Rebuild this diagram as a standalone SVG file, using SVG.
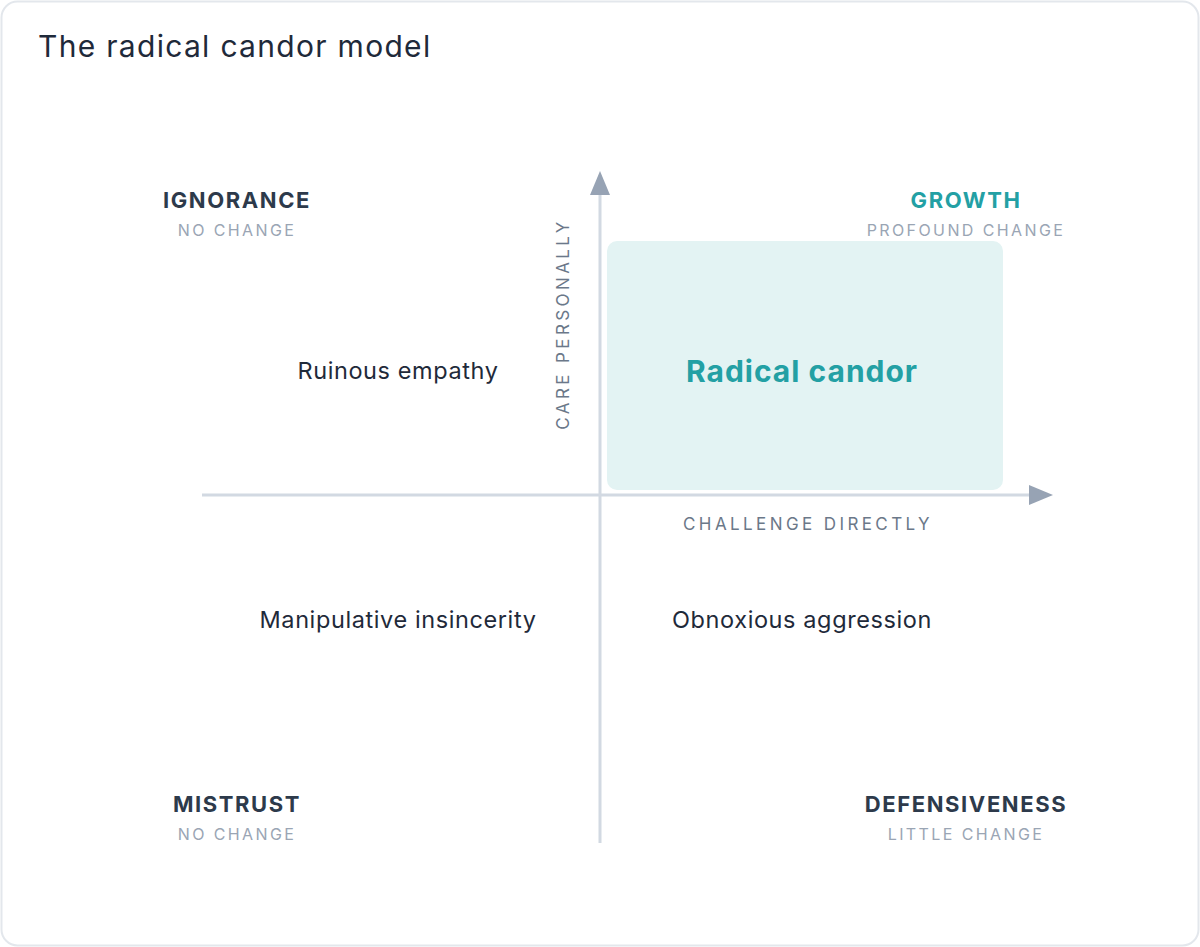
<svg xmlns="http://www.w3.org/2000/svg" width="1200" height="947" viewBox="0 0 1200 947">
<style>
text{font-family:"Inter","Liberation Sans",sans-serif}
.h{font-size:22px;font-weight:700;fill:#2d3a4b;letter-spacing:1.6px;text-anchor:middle}
.s{font-size:16px;fill:#9aa5b4;letter-spacing:2.4px;text-anchor:middle}
.l{font-size:23.5px;fill:#1f2a3a;letter-spacing:0.6px;text-anchor:middle}
.ax{font-size:17px;fill:#6b7889;letter-spacing:3.4px;text-anchor:middle}
.axis{stroke:#d2d9e2;stroke-width:3;fill:none}
</style>
<rect x="1.5" y="1.5" width="1197" height="944" rx="16" fill="#fff" stroke="#e3e7ec" stroke-width="2"/>
<text x="38" y="57" font-size="30" letter-spacing="1.3" fill="#1f2a3a">The radical candor model</text>
<g id="box"><rect x="607" y="241" width="396" height="249" rx="10" fill="#e3f3f3"/>
<text x="802" y="382" class="l" style="font-size:30px;font-weight:700;fill:#23a0a4;letter-spacing:1px">Radical candor</text></g>
<g id="connectors">
<line class="axis" x1="600" y1="843" x2="600" y2="194"/>
<polygon points="600,171 590,195 610,195" fill="#97a3b4"/>
<line class="axis" x1="202" y1="495" x2="1029" y2="495"/>
<polygon points="1053,495 1029,485 1029,505" fill="#97a3b4"/>
</g>
<text class="ax" transform="translate(569,324) rotate(-90)">CARE PERSONALLY</text>
<text class="ax" x="808" y="530">CHALLENGE DIRECTLY</text>
<g id="ignorance"><text class="h" x="237" y="208">IGNORANCE</text><text class="s" x="237" y="236">NO CHANGE</text></g>
<g id="growth"><text class="h" x="966" y="208" style="fill:#23a0a4">GROWTH</text><text class="s" x="966" y="236">PROFOUND CHANGE</text></g>
<g id="mistrust"><text class="h" x="237" y="812">MISTRUST</text><text class="s" x="237" y="840">NO CHANGE</text></g>
<g id="defensiveness"><text class="h" x="966" y="812">DEFENSIVENESS</text><text class="s" x="966" y="840">LITTLE CHANGE</text></g>
<g id="ruinous"><text class="l" x="398" y="379">Ruinous empathy</text></g>
<g id="manipulative"><text class="l" x="398" y="628">Manipulative insincerity</text></g>
<g id="obnoxious"><text class="l" x="802" y="628">Obnoxious aggression</text></g>
</svg>
